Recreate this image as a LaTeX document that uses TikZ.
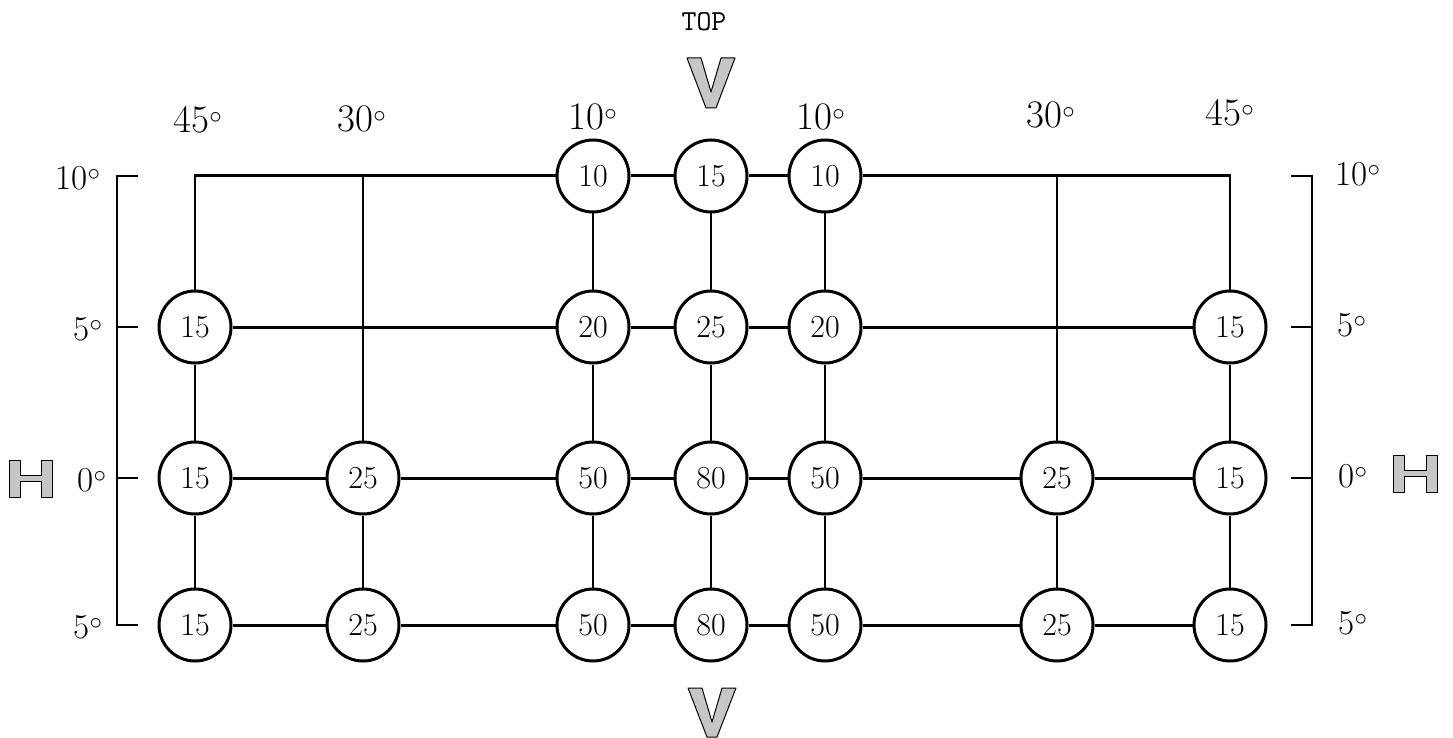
\documentclass[tikz,border=0pt]{standalone}
\usepackage{fontspec}
\begin{document}
\begin{tikzpicture}[x=1pt,y=-1pt,
  val/.style={circle,draw,line width=3pt,minimum size=72pt,inner sep=0pt,fill=white,font=\fontsize{32}{32}\selectfont},
  deg/.style={font=\fontsize{39}{39}\selectfont,inner sep=0pt},
  side/.style={font=\fontsize{35}{35}\selectfont,inner sep=0pt},
  hline/.style={line width=3pt},
  vline/.style={line width=2.4pt},
  bracket/.style={line width=2.6pt},
  outl/.style={fill=gray!45,draw=black,line width=1pt,line join=round}]
\useasboundingbox (0,0) rectangle (1453,738);
% columns A=195 B=363 C=593 D=711 E=825 F=1057 G=1230 ; rows 176 327 478 625
% corner coordinates
\coordinate (cA) at (195,176);
\coordinate (cB) at (363,176);
\coordinate (cF) at (1057,176);
\coordinate (cG) at (1230,176);
% top row
\node[val] (t10L) at (593,176) {10};
\node[val] (t15)  at (711,176) {15};
\node[val] (t10R) at (825,176) {10};
% 5 deg row
\node[val] (f15L) at (195,327) {15};
\node[val] (f20L) at (593,327) {20};
\node[val] (f25)  at (711,327) {25};
\node[val] (f20R) at (825,327) {20};
\node[val] (f15R) at (1230,327) {15};
% 0 deg row
\node[val] (z15L) at (195,478) {15};
\node[val] (z25L) at (363,478) {25};
\node[val] (z50L) at (593,478) {50};
\node[val] (z80)  at (711,478) {80};
\node[val] (z50R) at (825,478) {50};
\node[val] (z25R) at (1057,478) {25};
\node[val] (z15R) at (1230,478) {15};
% -5 deg row
\node[val] (m15L) at (195,625) {15};
\node[val] (m25L) at (363,625) {25};
\node[val] (m50L) at (593,625) {50};
\node[val] (m80)  at (711,625) {80};
\node[val] (m50R) at (825,625) {50};
\node[val] (m25R) at (1057,625) {25};
\node[val] (m15R) at (1230,625) {15};
% horizontal lines
\draw[hline] ([xshift=-1.2pt]cA) -- (t10L);
\draw[hline] (t10L) -- (t15);
\draw[hline] (t15) -- (t10R);
\draw[hline] (t10R) -- ([xshift=1.2pt]cG);
\draw[hline] (f15L) -- (f20L);
\draw[hline] (f20L) -- (f25);
\draw[hline] (f25) -- (f20R);
\draw[hline] (f20R) -- (f15R);
\draw[hline] (z15L) -- (z25L);
\draw[hline] (z25L) -- (z50L);
\draw[hline] (z50L) -- (z80);
\draw[hline] (z80) -- (z50R);
\draw[hline] (z50R) -- (z25R);
\draw[hline] (z25R) -- (z15R);
\draw[hline] (m15L) -- (m25L);
\draw[hline] (m25L) -- (m50L);
\draw[hline] (m50L) -- (m80);
\draw[hline] (m80) -- (m50R);
\draw[hline] (m50R) -- (m25R);
\draw[hline] (m25R) -- (m15R);
% vertical lines
\draw[vline] ([yshift=-1.5pt]cA) -- (f15L);
\draw[vline] (f15L) -- (z15L);
\draw[vline] (z15L) -- (m15L);
\draw[vline] (cB) -- (z25L);
\draw[vline] (z25L) -- (m25L);
\draw[vline] (t10L) -- (f20L);
\draw[vline] (f20L) -- (z50L);
\draw[vline] (z50L) -- (m50L);
\draw[vline] (t15) -- (f25);
\draw[vline] (f25) -- (z80);
\draw[vline] (z80) -- (m80);
\draw[vline] (t10R) -- (f20R);
\draw[vline] (f20R) -- (z50R);
\draw[vline] (z50R) -- (m50R);
\draw[vline] (cF) -- (z25R);
\draw[vline] (z25R) -- (m25R);
\draw[vline] ([yshift=-1.5pt]cG) -- (f15R);
\draw[vline] (f15R) -- (z15R);
\draw[vline] (z15R) -- (m15R);
% brackets
\coordinate (lb1) at (117,176); \coordinate (lt1) at (138,176);
\coordinate (lb2) at (117,327); \coordinate (lt2) at (138,327);
\coordinate (lb3) at (117,478); \coordinate (lt3) at (138,478);
\coordinate (lb4) at (117,625); \coordinate (lt4) at (138,625);
\coordinate (rb1) at (1312,176); \coordinate (rt1) at (1291,176);
\coordinate (rb2) at (1312,327); \coordinate (rt2) at (1291,327);
\coordinate (rb3) at (1312,478); \coordinate (rt3) at (1291,478);
\coordinate (rb4) at (1312,625); \coordinate (rt4) at (1291,625);
\draw[bracket] (lt1) -- (lb1) -- (lb4) -- (lt4);
\draw[bracket] (lb2) -- (lt2);
\draw[bracket] (lb3) -- (lt3);
\draw[bracket] (rt1) -- (rb1) -- (rb4) -- (rt4);
\draw[bracket] (rb2) -- (rt2);
\draw[bracket] (rb3) -- (rt3);
% side labels
\node[side] (l10) at (78,178) {10$^{\circ}$};
\node[side] (l5)  at (88,329) {5$^{\circ}$};
\node[side] (l0)  at (92,480) {0$^{\circ}$};
\node[side] (l5b) at (88,627) {5$^{\circ}$};
\node[side] (r10) at (1358,174) {10$^{\circ}$};
\node[side] (r5)  at (1352,325) {5$^{\circ}$};
\node[side] (r0)  at (1353,476) {0$^{\circ}$};
\node[side] (r5b) at (1353,623) {5$^{\circ}$};
% top labels
\node[deg] (a45L) at (198,120) {45$^{\circ}$};
\node[deg] (a30L) at (362,119) {30$^{\circ}$};
\node[deg] (a10L) at (593,117) {10$^{\circ}$};
\node[deg] (a10R) at (821,117) {10$^{\circ}$};
\node[deg] (a30R) at (1051,115) {30$^{\circ}$};
\node[deg] (a45R) at (1230,113) {45$^{\circ}$};
\node[font=\ttfamily\fontsize{29}{29}\selectfont,inner sep=0pt] (top) at (704,22) {TOP};
% outlined letters V (top and bottom)
\draw[outl] (687,58) -- (701,58) -- (711,92) -- (721,58) -- (735,58) -- (716,108) -- (706,108) -- cycle;
\draw[outl] (688,688) -- (702,688) -- (712,722) -- (722,688) -- (736,688) -- (717,737) -- (707,737) -- cycle;
% outlined letters H (left and right)
\draw[outl] (9,460) -- (20,460) -- (20,475) -- (41,475) -- (41,460) -- (52,460) -- (52,497) -- (41,497) -- (41,481) -- (20,481) -- (20,497) -- (9,497) -- cycle;
\draw[outl] (1393,455) -- (1404,455) -- (1404,470) -- (1426,470) -- (1426,455) -- (1437,455) -- (1437,492) -- (1426,492) -- (1426,476) -- (1404,476) -- (1404,492) -- (1393,492) -- cycle;
\end{tikzpicture}
\end{document}
